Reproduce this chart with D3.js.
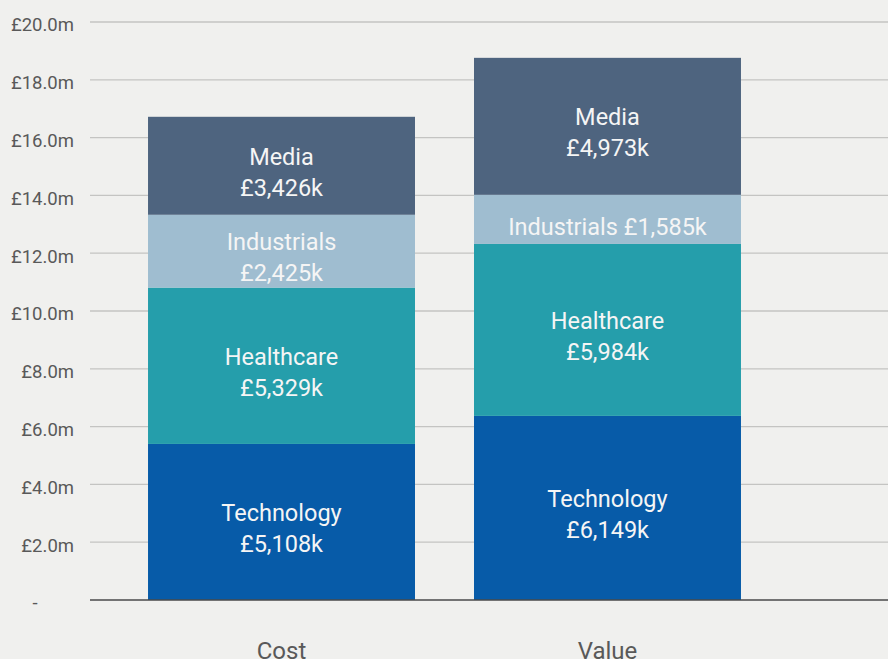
<!DOCTYPE html>
<html>
<head>
<meta charset="utf-8">
<script src="https://cdn.jsdelivr.net/npm/d3@7"></script>
<style>
  html, body { margin: 0; padding: 0; background: #f0f0ee; }
  svg { display: block; font-family: Roboto, "Noto Sans", sans-serif; }
</style>
</head>
<body>
<div id="chart"></div>
<script>
// stacked columns, cost vs value by sector

var categories = ["Cost", "Value"];
var sectors = ["Technology", "Healthcare", "Industrials", "Media"];

// segment heights as drawn (£m)
var costValues  = [5.40, 5.41, 2.52, 3.39];
var valueValues = [6.37, 5.95, 1.70, 4.74];

// label text shown in each segment
var costLabels  = ["£5,108k", "£5,329k", "£2,425k", "£3,426k"];
var valueLabels = ["£6,149k", "£5,984k", "£1,585k", "£4,973k"];

var yTicks = [0, 2, 4, 6, 8, 10, 12, 14, 16, 18, 20];

var colors = ["#075ba8", "#259eab", "#9fbdd0", "#4e647f"];

var w = 888;
var h = 659;

var svg = d3.select("#chart").append("svg")
  .attr("width", w)
  .attr("height", h);

var yScale = d3.scaleLinear()
  .domain([0, 20])
  .range([600, 22]);

var x = d3.scaleBand()
  .domain(categories)
  .range([90, 799])
  .paddingInner(0.181)
  .paddingOuter(0.178);

var color = d3.scaleOrdinal()
  .domain(sectors)
  .range(colors);

// gridlines
svg.append("g")
  .selectAll("line")
  .data(yTicks.filter(function(d) { return d > 0; }))
  .enter()
  .append("line")
  .attr("x1", 90)
  .attr("x2", w)
  .attr("y1", function(d) { return yScale(d); })
  .attr("y2", function(d) { return yScale(d); })
  .attr("stroke", "#c4c4c2")
  .attr("stroke-width", 1.3);

// y axis labels
var yAxis = d3.axisLeft(yScale)
  .tickValues(yTicks)
  .tickSize(0)
  .tickPadding(16)
  .tickFormat(function(d) { return d === 0 ? "-" : "£" + d.toFixed(1) + "m"; });

var yg = svg.append("g")
  .attr("transform", "translate(90,3)")
  .call(yAxis);
yg.select(".domain").remove();
yg.selectAll("text")
  .attr("fill", "#595959")
  .style("font-size", "18.5px")
  .style("font-family", "Roboto, sans-serif");
yg.selectAll(".tick")
  .filter(function(d) { return d === 0; })
  .select("text")
  .attr("text-anchor", "middle")
  .attr("x", -55);

// build table for stacking
var rows = categories.map(function(c, i) {
  var vals = i === 0 ? costValues : valueValues;
  var labs = i === 0 ? costLabels : valueLabels;
  var r = { category: c, labels: {} };
  sectors.forEach(function(s, j) { r[s] = vals[j]; r.labels[s] = labs[j]; });
  return r;
});

var series = d3.stack().keys(sectors)(rows);

var layers = svg.append("g")
  .selectAll("g")
  .data(series)
  .enter()
  .append("g")
  .attr("fill", function(d) { return color(d.key); });

layers.selectAll("rect")
  .data(function(d) { return d; })
  .enter()
  .append("rect")
  .attr("x", function(d) { return x(d.data.category); })
  .attr("y", function(d) { return yScale(d[1]); })
  .attr("width", x.bandwidth())
  .attr("height", function(d) { return yScale(d[0]) - yScale(d[1]); });

// segment labels
series.forEach(function(s) {
  s.forEach(function(d) {
    var cx = x(d.data.category) + x.bandwidth() / 2;
    var top = yScale(d[1]), bot = yScale(d[0]);
    var cy = (top + bot) / 2;
    var lab = d.data.labels[s.key];
    var t = svg.append("text")
      .attr("x", cx)
      .attr("text-anchor", "middle")
      .attr("fill", "#f5f5f5")
      .style("font-size", "23.5px");
    if (bot - top < 60) {
      t.attr("y", cy + 15.5).text(s.key + " " + lab);
    } else {
      t.append("tspan").attr("x", cx).attr("y", cy - 1).text(s.key);
      t.append("tspan").attr("x", cx).attr("y", cy + 30).text(lab);
    }
  });
});

// baseline
svg.append("line")
  .attr("x1", 90)
  .attr("x2", w)
  .attr("y1", yScale(0))
  .attr("y2", yScale(0))
  .attr("stroke", "#4a4a4a")
  .attr("stroke-width", 1.5);

// category labels (cut by the bottom edge, as in the original)
var xAxis = d3.axisBottom(x).tickSize(0).tickPadding(42);
var xg = svg.append("g")
  .attr("transform", "translate(0," + yScale(0) + ")")
  .call(xAxis);
xg.select(".domain").remove();
xg.selectAll("text")
  .attr("fill", "#595959")
  .style("font-size", "24px")
  .style("font-family", "Roboto, sans-serif");
</script>
</body>
</html>
